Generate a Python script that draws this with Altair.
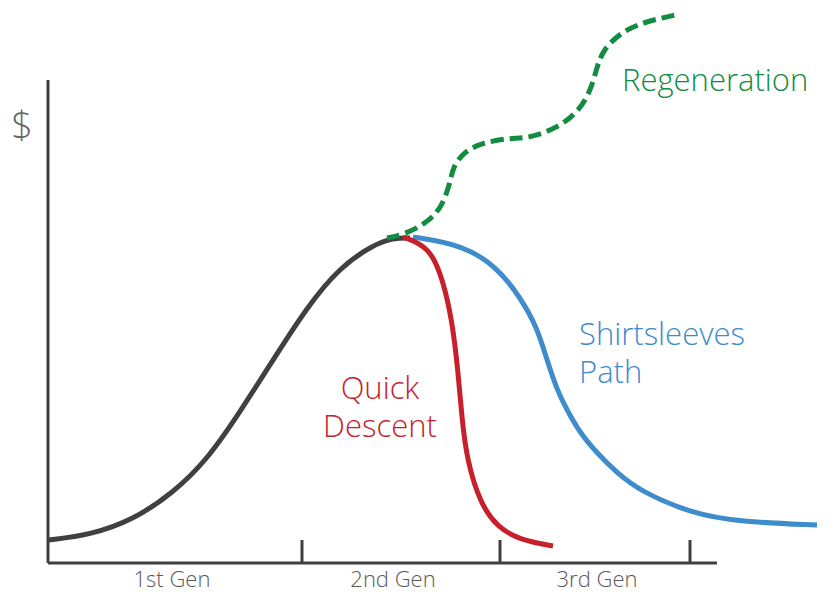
import altair as alt
import pandas as pd

# Coordinates are in chart units (x to the right, y upward)
black_x = [48, 90, 133, 173, 207, 240, 273, 307, 340, 373, 393, 410]
black_y = [60, 65, 80, 107, 140, 188, 240, 293, 333, 355, 362, 362]

red_x = [403, 430, 443, 452, 458, 462, 467, 480, 497, 520, 553]
red_y = [363, 353, 320, 280, 230, 180, 140, 97, 73, 60, 54]

blue_x = [413, 463, 497, 520, 537, 547, 557, 567, 580, 597, 617, 640, 690, 740, 817]
blue_y = [363, 355, 333, 303, 273, 240, 210, 190, 167, 147, 127, 109, 87, 78, 75]

green_x = [387, 403, 427, 442, 450, 453, 463, 480, 510, 530, 557, 577, 590, 597, 603, 620, 643, 680]
green_y = [362, 365, 377, 393, 417, 433, 447, 457, 462, 462, 472, 487, 507, 533, 550, 567, 578, 586]

gen_labels = ["1st Gen", "2nd Gen", "3rd Gen"]
gen_label_x = [172, 393, 597]
tick_x = [302, 500, 690]

series_labels = ["Regeneration", "Shirtsleeves", "Path", "Quick", "Descent"]

FONT = "Open Sans"
AXC = "#404040"

xs = alt.Scale(domain=[8, 829], nice=False, zero=False)
ys = alt.Scale(domain=[8, 592], nice=False, zero=False)

def curve(xv, yv, color, dash=None):
    df = pd.DataFrame({"x": xv, "y": yv, "o": range(len(xv))})
    kw = dict(color=color, strokeWidth=5, interpolate="basis", strokeCap="butt")
    if dash:
        kw["strokeDash"] = dash
    return alt.Chart(df).mark_line(**kw).encode(
        x=alt.X("x:Q", scale=xs, axis=None),
        y=alt.Y("y:Q", scale=ys, axis=None),
        order="o:Q",
    )

axes_df = pd.DataFrame({"x": [48, 48], "x2": [48, 717], "y": [520, 37], "y2": [37, 37]})
axes = alt.Chart(axes_df).mark_rule(color=AXC, strokeWidth=3).encode(
    x=alt.X("x:Q", scale=xs, axis=None), x2="x2:Q",
    y=alt.Y("y:Q", scale=ys, axis=None), y2="y2:Q",
)

ticks_df = pd.DataFrame({"x": tick_x, "y": [37] * 3, "y2": [60] * 3})
ticks = alt.Chart(ticks_df).mark_rule(color=AXC, strokeWidth=3).encode(
    x=alt.X("x:Q", scale=xs, axis=None),
    y=alt.Y("y:Q", scale=ys, axis=None), y2="y2:Q",
)

gen_df = pd.DataFrame({"label": gen_labels, "x": gen_label_x, "y": [20] * 3})
gen_text = alt.Chart(gen_df).mark_text(font=FONT, fontSize=22, fontWeight=300, color="#595959",
                                       baseline="middle", align="center").encode(
    x=alt.X("x:Q", scale=xs, axis=None), y=alt.Y("y:Q", scale=ys, axis=None), text="label:N")

dollar_df = pd.DataFrame({"label": ["$"], "x": [22], "y": [472]})
dollar = alt.Chart(dollar_df).mark_text(font=FONT, fontSize=38, fontWeight=300, color="#666666",
                                        baseline="middle", align="center").encode(
    x=alt.X("x:Q", scale=xs, axis=None), y=alt.Y("y:Q", scale=ys, axis=None), text="label:N")

def label(txt, x, y, color, align):
    df = pd.DataFrame({"label": [txt], "x": [x], "y": [y]})
    return alt.Chart(df).mark_text(font=FONT, fontSize=31, fontWeight=300, color=color,
                                   baseline="middle", align=align).encode(
        x=alt.X("x:Q", scale=xs, axis=None), y=alt.Y("y:Q", scale=ys, axis=None), text="label:N")

labels = [
    label(series_labels[0], 622, 518, "#118c40", "left"),
    label(series_labels[1], 579, 264.5, "#3f8ccc", "left"),
    label(series_labels[2], 579, 226.5, "#3f8ccc", "left"),
    label(series_labels[3], 380, 210, "#c8202a", "center"),
    label(series_labels[4], 380, 172, "#c8202a", "center"),
]

chart = alt.layer(
    axes, ticks,
    curve(black_x, black_y, "#404040"),
    curve(blue_x, blue_y, "#3f8ccc"),
    curve(red_x, red_y, "#c8202a"),
    curve(green_x, green_y, "#118c40", dash=[13, 6]),
    gen_text, dollar, *labels,
).properties(width=821, height=584, padding=0, autosize="none").configure_view(stroke=None)

chart.save("out.html", embed_options={"renderer": "svg", "actions": False})
